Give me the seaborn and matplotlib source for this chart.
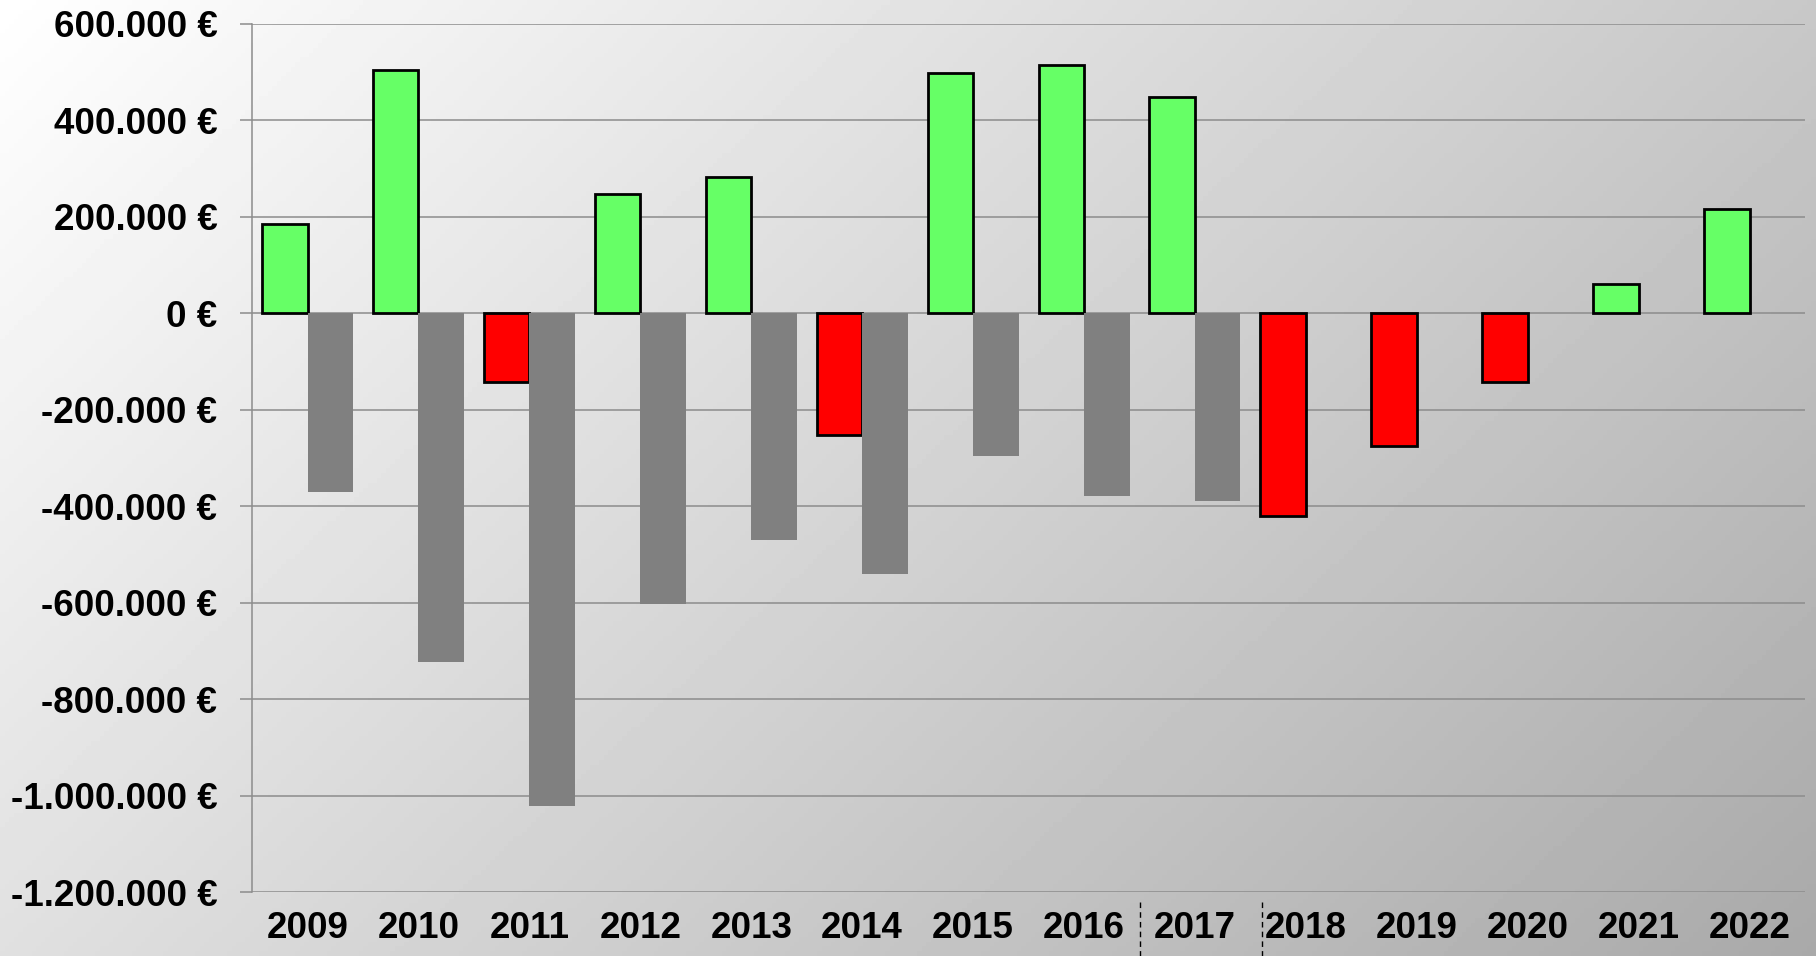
import numpy as np
import pandas as pd
import seaborn as sns
import matplotlib.pyplot as plt
from matplotlib.ticker import FuncFormatter

years = ['2009', '2010', '2011', '2012', '2013', '2014', '2015',
         '2016', '2017', '2018', '2019', '2020', '2021', '2022']
result = [185000, 504000, -142000, 247000, 283000, -252000, 499000,
          514000, 449000, -420000, -276000, -142000, 60000, 216000]
gray_years = ['2009', '2010', '2011', '2012', '2013', '2014', '2015', '2016', '2017']
gray_values = [-370000, -722000, -1022000, -602000, -470000, -540000, -295000,
               -379000, -389000]
y_ticks = [600000, 400000, 200000, 0, -200000, -400000, -600000, -800000,
           -1000000, -1200000]

df = pd.concat([
    pd.DataFrame({'year': years, 'series': 'A', 'value': result}),
    pd.DataFrame({'year': gray_years, 'series': 'B', 'value': gray_values}),
])

sns.set_style('white')
plt.rcParams['font.family'] = ['Liberation Sans', 'DejaVu Sans']
plt.rcParams['font.weight'] = 'bold'
plt.rcParams['text.color'] = 'black'
plt.rcParams['xtick.color'] = 'black'
plt.rcParams['ytick.color'] = 'black'

fig = plt.figure(figsize=(18.16, 9.56), dpi=100)

# gradient background
bg = fig.add_axes([0, 0, 1, 1], zorder=-10)
xx, yy = np.meshgrid(np.linspace(0, 1, 400), np.linspace(0, 1, 200))
grad = (255 - 55 * xx - 31 * yy) / 255
bg.imshow(grad, cmap='gray', vmin=0, vmax=1, aspect='auto', extent=[0, 1, 1, 0])
bg.axis('off')

ax = fig.add_axes([0.1388, 0.0669, 0.8552, 0.9081])
ax.set_facecolor('none')
sns.barplot(data=df, x='year', y='value', hue='series', order=years,
            hue_order=['A', 'B'], width=0.82, errorbar=None, ax=ax,
            legend=False)

for bar in ax.containers[0]:
    h = bar.get_height()
    bar.set_facecolor('#66ff66' if h > 0 else '#ff0000')
    bar.set_edgecolor('black')
    bar.set_linewidth(2)
for bar in ax.containers[1]:
    bar.set_facecolor('#808080')
    bar.set_edgecolor('none')

ax.set_ylim(-1200000, 600000)
ax.set_xlim(-0.5, len(years) - 0.5)
ax.set_yticks(y_ticks)
ax.yaxis.set_major_formatter(FuncFormatter(
    lambda v, p: '{:,.0f} €'.format(v).replace(',', '.')))
ax.yaxis.grid(True, color='#8c8c8c', linewidth=1.1)
ax.set_axisbelow(True)
ax.tick_params(axis='y', length=9, width=1.1, color='#8c8c8c', pad=16,
               labelsize=26.5, labelcolor='black', left=True)
ax.tick_params(axis='x', length=0, pad=14, labelsize=26.5, labelcolor='black')
for lbl in ax.get_xticklabels() + ax.get_yticklabels():
    lbl.set_fontweight('bold')
for s in ['top', 'right', 'bottom']:
    ax.spines[s].set_visible(False)
ax.spines['left'].set_color('#8c8c8c')
ax.spines['left'].set_linewidth(1.1)
ax.set_xlabel('')
ax.set_ylabel('')

# dashed separators under the axis
for xpos in [7.5, 8.6]:
    ax.plot([xpos, xpos], [-1220000, -1340000], color='black', linewidth=1,
            linestyle=(0, (4, 3)), clip_on=False)

fig.savefig('out.png', dpi=100)
